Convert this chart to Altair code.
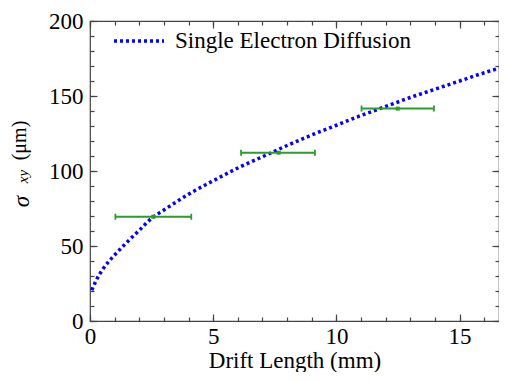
import altair as alt
import pandas as pd

# ---- data ----
drift_mm = [0.07, 0.25, 0.5, 0.75, 1, 1.5, 2, 2.5, 3, 4, 5, 6, 7, 8, 9, 10,
            11, 12, 13, 14, 15, 16, 16.6]
sigma_um = [20.5, 27, 34, 39.5, 44, 52.5, 60.5, 68.5, 74, 84.5, 93.5, 102,
            109.5, 117, 124, 130.5, 137, 143, 149, 154.5, 160, 165.5, 168.5]
series_name = "Single Electron Diffusion"

bin_lo = [1.03, 6.13, 11.02]
bin_hi = [4.11, 9.13, 13.96]
bin_center = [2.57, 7.66, 12.49]
bin_sigma = [69.5, 112.2, 141.6]

x_major = [0, 5, 10, 15]
x_minor = list(range(0, 17))
y_major = [0, 50, 100, 150, 200]
y_minor = list(range(0, 201, 10))

curve = pd.DataFrame({"x": drift_mm, "y": sigma_um, "series": series_name})
bins = pd.DataFrame({"lo": bin_lo, "hi": bin_hi, "c": bin_center, "v": bin_sigma})

FONT = "Liberation Serif"
INK = "#444444"
BLUE = "#0000ff"
GREEN = "#2a9d2a"
FS = 23
W, H = 409, 300
TOP = 21   # page y of plot top
LEFT = 90  # page x of plot left

xs = alt.Scale(domain=[0, 16.6], nice=False, zero=False)
ys = alt.Scale(domain=[0, 200], nice=False, zero=False)


def ax(**kw):
    base = dict(grid=False, domain=False, tickColor=INK, tickWidth=1.2,
                labels=False, title="")
    base.update(kw)
    return alt.Axis(**base)


def title_axis(text, size, style, page_x, page_y):
    return ax(orient="left", values=y_major, ticks=False, title=text,
              titleFont=FONT, titleFontSize=size, titleFontStyle=style,
              titleFontWeight="normal", titleColor="black", titleAngle=270,
              titleBaseline="alphabetic", titleAlign="center",
              titleX=page_x - LEFT, titleY=page_y - TOP)


# main axes: labels + major ticks
x_main = ax(orient="bottom", values=x_major, tickSize=7, offset=-7,
            labels=True, labelFlush=False, labelFont=FONT,
            labelFontSize=FS, labelColor="black",
            labelPadding=4, title="Drift Length (mm)", titleFont=FONT,
            titleFontSize=FS, titleFontWeight="normal", titleColor="black",
            titleBaseline="alphabetic", titleAlign="center",
            titleX=W / 2, titleY=367 - TOP - (H - 7))
y_main = ax(orient="left", values=y_major, tickSize=7, offset=-7,
            labels=True, labelFlush=False, labelFont=FONT,
            labelFontSize=FS, labelColor="black", labelPadding=7)

x_minor_ax = ax(orient="bottom", values=x_minor, tickSize=4, offset=-4)
y_minor_ax = ax(orient="left", values=y_minor, tickSize=4, offset=-4)

x_top_major = ax(orient="top", values=x_major, tickSize=7, offset=-7)
y_right_major = ax(orient="right", values=y_major, tickSize=7, offset=-7)
x_top_minor = ax(orient="top", values=x_minor, tickSize=4, offset=-4)
y_right_minor = ax(orient="right", values=y_minor, tickSize=4, offset=-4)

y_sigma_ax = title_axis("σ", FS, "italic", 28, 201)
y_sub_ax = title_axis("xy", 15, "italic", 27.5, 176)
y_unit_ax = title_axis("(μm)", 20, "normal", 25, 140)

line = alt.Chart(curve).mark_line(
    strokeDash=[3, 3], strokeWidth=3.5, interpolate="monotone"
).encode(
    x=alt.X("x:Q", scale=xs, axis=x_main),
    y=alt.Y("y:Q", scale=ys, axis=y_main),
    color=alt.Color(
        "series:N",
        scale=alt.Scale(domain=[series_name], range=[BLUE]),
        legend=alt.Legend(
            title=None, orient="none", legendX=22, legendY=-7, padding=0,
            symbolType="stroke", symbolSize=2500, symbolStrokeWidth=3.5,
            symbolDash=[3, 3], labelFont=FONT, labelFontSize=FS,
            labelColor="black", labelOffset=9, labelLimit=500,
        ),
    ),
)

rules = alt.Chart(bins).mark_rule(color=GREEN, strokeWidth=2).encode(
    x=alt.X("lo:Q", scale=xs, axis=x_minor_ax),
    x2="hi:Q",
    y=alt.Y("v:Q", scale=ys, axis=y_minor_ax),
)

caps = alt.Chart(bins).transform_fold(["lo", "hi"], as_=["k", "xe"]).mark_tick(
    orient="vertical", size=6, thickness=1.8, color=GREEN, opacity=1
).encode(
    x=alt.X("xe:Q", scale=xs, axis=x_top_major),
    y=alt.Y("v:Q", scale=ys, axis=y_right_major),
)

centers = alt.Chart(bins).mark_square(size=16, color=GREEN, opacity=1).encode(
    x=alt.X("c:Q", scale=xs, axis=x_top_minor),
    y=alt.Y("v:Q", scale=ys, axis=y_right_minor),
)


def ghost(axis_y):
    return alt.Chart(curve).mark_point(opacity=0).encode(
        x=alt.X("x:Q", scale=xs,
                axis=ax(orient="bottom", values=x_major, ticks=False)),
        y=alt.Y("y:Q", scale=ys, axis=axis_y),
    )


chart = alt.layer(
    line, rules, caps, centers,
    ghost(y_sigma_ax), ghost(y_sub_ax), ghost(y_unit_ax),
).resolve_axis(
    x="independent", y="independent"
).properties(
    width=W, height=H,
    autosize=alt.AutoSizeParams(type="none"),
    padding={"left": LEFT - 8, "top": TOP - 8, "right": 0,
             "bottom": 364 - (TOP - 8) - H},
).configure_view(stroke=INK, strokeWidth=1.2)

chart.save("out.html", embed_options={"renderer": "svg", "actions": False})
